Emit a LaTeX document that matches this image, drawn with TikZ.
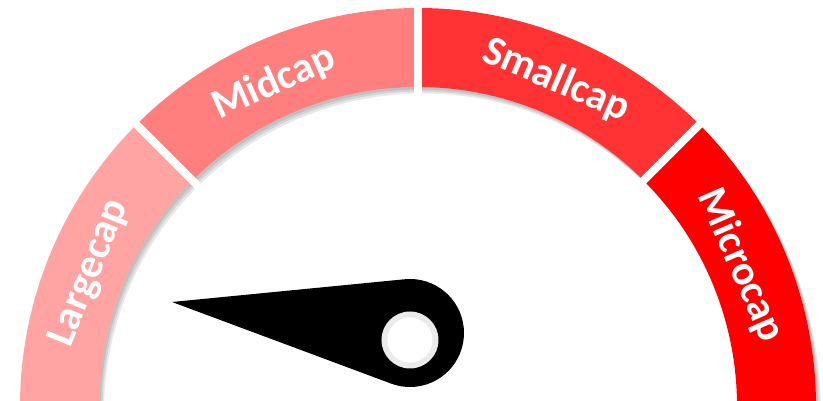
\documentclass[tikz,border=0pt]{standalone}
\usepackage{fontspec}
\setmainfont{Carlito}
\usetikzlibrary{positioning}
\definecolor{capLarge}{HTML}{FFA3A3}
\definecolor{capMid}{HTML}{FF7F7F}
\definecolor{capSmall}{HTML}{FF3333}
\definecolor{capMicro}{HTML}{FF0000}
\definecolor{hubRing}{HTML}{EBEBEB}

\newcommand{\capband}[3]{%
    \fill[#3] (#1:319) arc[start angle=#1, end angle=#2, radius=319]
        -- (#2:398) arc[start angle=#2, end angle=#1, radius=398] -- cycle;
}

\tikzset{
    caplabel/.style={text=white, inner sep=0pt, font=\fontsize{42}{50}\selectfont\bfseries},
    gapline/.style={white, line width=8pt},
    bandshadow/.style={black, opacity=0.09},
}

\begin{document}
\begin{tikzpicture}[x=1pt, y=1pt]
        \useasboundingbox (-418,5) rectangle (405,406);
        \clip (-418,5) rectangle (405,406);

        \begin{scope}[shift={(2,-2.5)}]
            \capband{-3}{183}{bandshadow}
        \end{scope}
        \begin{scope}[shift={(3.5,-4.5)}]
            \capband{-3}{183}{bandshadow}
        \end{scope}
        \begin{scope}[shift={(5,-6.5)}]
            \capband{-3}{183}{bandshadow}
        \end{scope}

        \capband{135}{183}{capLarge}
        \capband{90}{135}{capMid}
        \capband{45}{90}{capSmall}
        \capband{-3}{45}{capMicro}

        \draw[gapline] (135:300) -- (135:420);
        \draw[gapline] (90:300) -- (90:420);
        \draw[gapline] (45:300) -- (45:420);

        \node[caplabel, rotate=68] (largecap) at (158:354) {Largecap};
        \node[caplabel, rotate=24] (midcap) at (114:354) {Midcap};
        \node[caplabel, rotate=-23] (smallcap) at (67:354) {Smallcap};
        \node[caplabel, rotate=-66.5] (microcap) at (23.5:352) {Microcap};

        \coordinate (head) at (-8,73);
        \coordinate (tip) at (-246,104);
        \coordinate (hub) at (-8,66);
        \fill[black] (tip) -- ([shift={(95.6:54)}]head)
            arc[start angle=95.6, end angle=-110.4, radius=54] -- cycle;
        \fill[hubRing] (hub) circle[radius=28.5];
        \fill[white] (hub) circle[radius=22.5];
    \end{tikzpicture}
\end{document}
